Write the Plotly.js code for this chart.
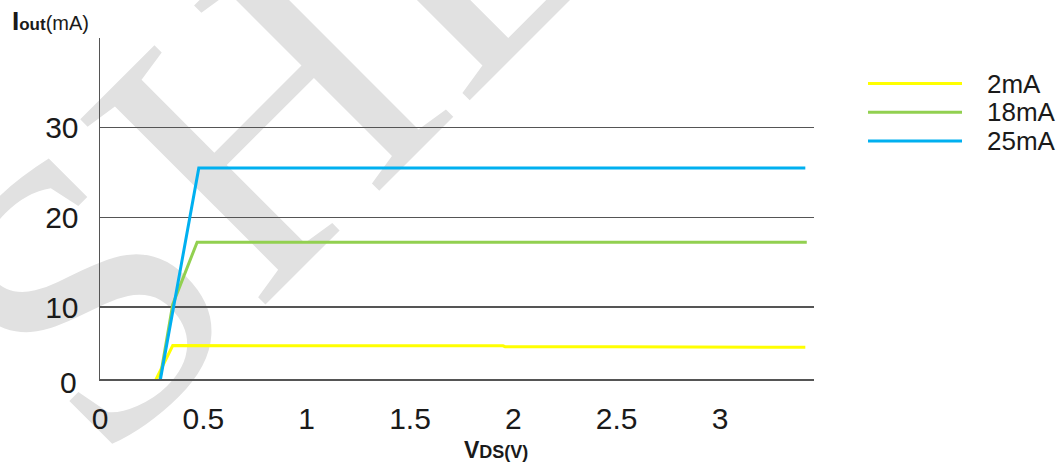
<!DOCTYPE html>
<html>
<head>
<meta charset="utf-8">
<script src="https://cdn.plot.ly/plotly-3.0.1.min.js"></script>
<style>
  html, body { margin: 0; padding: 0; background: #ffffff; }
  #chart { width: 1062px; height: 463px; }
</style>
</head>
<body>
<div id="chart"></div>
<script>
// Output current vs. drain-source voltage for three set currents
const seriesNames  = ['2mA', '18mA', '25mA'];
const seriesColors = ['#ffff00', '#92d050', '#00b0f0'];

// V_DS (V) / I_out (mA) breakpoints of each curve
const vds2mA  = [0.229, 0.352, 1.95, 1.96, 2.50, 3.413];
const iout2mA = [0,     5.72,  5.70, 5.60, 5.58, 5.54];

const vds18mA  = [0.275, 0.352, 0.470, 3.420];
const iout18mA = [0,     10.3,  17.25, 17.25];

const vds25mA  = [0.277, 0.478, 3.413];
const iout25mA = [0,     25.5,  25.5];

const yTicks = [10, 20, 30];
const xTicks = [0, 0.5, 1, 1.5, 2, 2.5, 3];
const xTickText = ['0', '0.5', '1', '1.5', '2', '2.5', '3'];

const watermarkText = 'SHL';

// Plot frame
const W = 1062, H = 463;
const M = { l: 100, r: 248, t: 38, b: 84 };
const plotW = W - M.l - M.r, plotH = H - M.t - M.b;
const px2x = p => (p - M.l) / plotW;          // pixel -> paper x
const px2y = p => (H - M.b - p) / plotH;      // pixel -> paper y

const FONT = 'Liberation Sans, Arial, Helvetica, sans-serif';
const TXT = '#1a1a1a';

const xs = [vds2mA, vds18mA, vds25mA];
const ys = [iout2mA, iout18mA, iout25mA];

const traces = seriesNames.map((name, i) => ({
  type: 'scatter',
  mode: 'lines',
  name: name,
  x: xs[i],
  y: ys[i],
  line: { color: seriesColors[i], width: 3 },
  hoverinfo: 'x+y+name'
}));

// Legend drawn as long line samples with labels to the right
const shapes = [];
const annotations = [];
const legTop = 83.5, legStep = 28.7, legX0 = 868, legX1 = 962, legTextX = 985;
seriesNames.forEach((name, i) => {
  const py = legTop + i * legStep;
  shapes.push({
    type: 'line', xref: 'paper', yref: 'paper',
    x0: px2x(legX0), x1: px2x(legX1), y0: px2y(py), y1: px2y(py),
    line: { color: seriesColors[i], width: 3 }
  });
  annotations.push({
    xref: 'paper', yref: 'paper', x: px2x(legTextX), y: px2y(py),
    xanchor: 'left', yanchor: 'middle', showarrow: false,
    text: name, font: { family: FONT, size: 26, color: TXT }
  });
});

// Axis titles and the origin label
annotations.push({
  xref: 'paper', yref: 'paper', x: px2x(10), y: px2y(38),
  xanchor: 'left', yanchor: 'bottom', showarrow: false,
  text: '<b>I</b><b><span style="font-size:17px">out</span></b><span style="font-size:20px">(mA)</span>',
  font: { family: FONT, size: 26, color: TXT }
});
annotations.push({
  xref: 'paper', yref: 'paper', x: px2x(462), y: px2y(435),
  xanchor: 'left', yanchor: 'top', showarrow: false,
  text: '<b>V</b><b><span style="font-size:18px">DS(V)</span></b>',
  font: { family: FONT, size: 23, color: TXT }
});
annotations.push({
  xref: 'paper', yref: 'paper', x: px2x(79), y: 0,
  xanchor: 'right', yanchor: 'middle', yshift: -3, showarrow: false,
  text: '0', font: { family: FONT, size: 30, color: TXT }
});

// Light diagonal watermark lettering behind the plot
const wmSvg =
  '<svg xmlns="http://www.w3.org/2000/svg" width="' + W + '" height="' + H + '">' +
  '<text x="100" y="470" transform="rotate(-45 100 470)" ' +
  'font-family="Liberation Serif, DejaVu Serif, serif" font-size="400" fill="#e1e1e1">' +
  watermarkText + '</text></svg>';

const layout = {
  width: W, height: H,
  margin: M,
  paper_bgcolor: '#ffffff',
  plot_bgcolor: 'rgba(0,0,0,0)',
  showlegend: false,
  images: [{
    source: 'data:image/svg+xml;charset=utf-8,' + encodeURIComponent(wmSvg),
    xref: 'paper', yref: 'paper',
    x: px2x(0), y: px2y(0), sizex: W / plotW, sizey: H / plotH,
    xanchor: 'left', yanchor: 'top', sizing: 'stretch', layer: 'below'
  }],
  xaxis: {
    range: [0, 3.455],
    tickvals: xTicks, ticktext: xTickText,
    showgrid: false, zeroline: false,
    showline: true, linecolor: '#555555', linewidth: 1.5,
    ticks: '', ticklabelstandoff: 12,
    tickfont: { family: FONT, size: 30, color: TXT },
    fixedrange: true
  },
  yaxis: {
    range: [2, 40],
    tickvals: yTicks,
    showgrid: true, gridcolor: '#555555', gridwidth: 1.5,
    zeroline: false,
    showline: true, linecolor: '#555555', linewidth: 1.5,
    ticks: '', ticklabelstandoff: 14,
    tickfont: { family: FONT, size: 30, color: TXT },
    fixedrange: true
  },
  shapes: shapes,
  annotations: annotations
};

Plotly.newPlot('chart', traces, layout, { displayModeBar: false, staticPlot: true });
</script>
</body>
</html>
